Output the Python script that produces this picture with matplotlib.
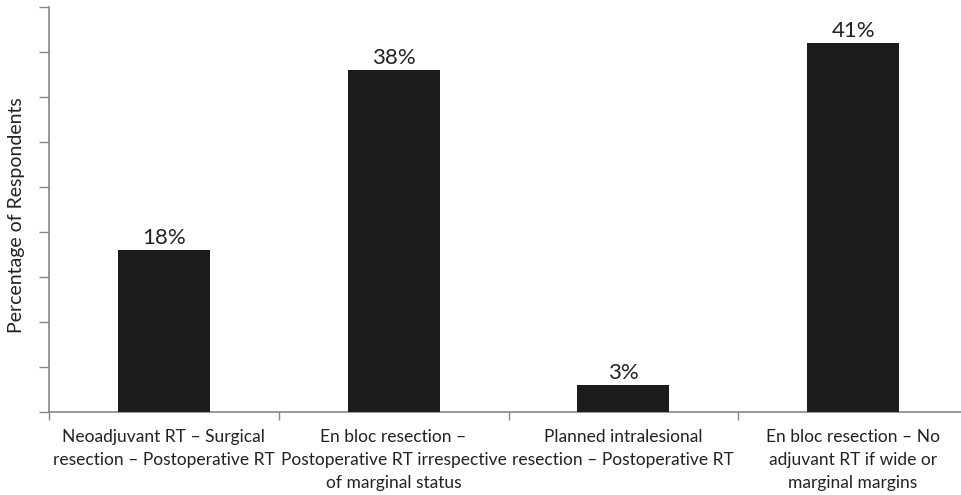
import matplotlib
matplotlib.use("Agg")
import matplotlib.pyplot as plt
import numpy as np

categories = [
    "Neoadjuvant RT \u2013 Surgical\nresection \u2013 Postoperative RT",
    "En bloc resection \u2013\nPostoperative RT irrespective\nof marginal status",
    "Planned intralesional\nresection \u2013 Postoperative RT",
    "En bloc resection \u2013 No\nadjuvant RT if wide or\nmarginal margins",
]
percentages = [18, 38, 3, 41]
value_labels = ["18%", "38%", "3%", "41%"]

plt.rcParams["font.family"] = ["Lato", "DejaVu Sans"]

fig = plt.figure(figsize=(9.61, 4.95), dpi=100)
ax = fig.add_axes([49 / 961, 1 - 412 / 495, 919 / 961, 405 / 495])

x = np.arange(len(categories))
bars = ax.bar(x, percentages, width=0.4, color="#1c1c1c", zorder=3)
for xi, val, lab in zip(x, percentages, value_labels):
    ax.text(xi, val + 0.2, lab, ha="center", va="bottom", fontsize=16, color="#222222")

ax.set_xlim(-0.5, len(categories) - 0.5)
ax.set_ylim(0, 45)
ax.set_yticks(np.arange(0, 46, 5))
ax.set_yticklabels([])
ax.set_xticks(x)
ax.set_xticklabels(categories, fontsize=12.5, color="#222222", linespacing=1.55)
ax.set_xticks(np.arange(-0.5, len(categories)), minor=True)
ax.tick_params(axis="x", which="major", length=0, pad=12)
ax.tick_params(axis="x", which="minor", length=6, color="#888888", width=1)
ax.tick_params(axis="y", length=7, color="#888888", width=1)
ax.set_ylabel("Percentage of Respondents", fontsize=14, color="#222222")
ax.yaxis.set_label_coords(-24 / 919, 0.485)

for side in ["top", "right"]:
    ax.spines[side].set_visible(False)
for side in ["left", "bottom"]:
    ax.spines[side].set_color("#888888")
    ax.spines[side].set_linewidth(1.2)

fig.savefig("out.png", dpi=100)
